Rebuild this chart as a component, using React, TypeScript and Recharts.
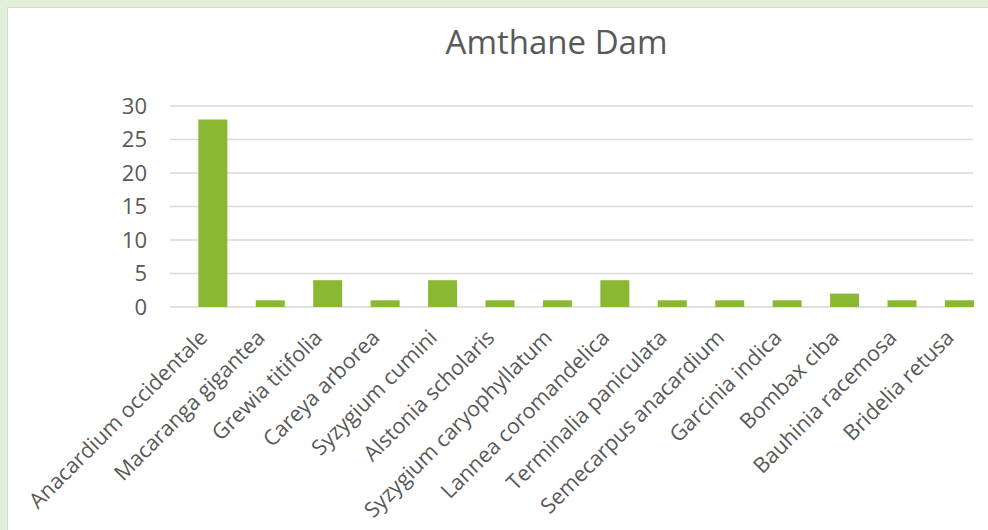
import React from "react";
import { BarChart, Bar, XAxis, YAxis, CartesianGrid } from "recharts";

const species = [
  "Anacardium occidentale",
  "Macaranga gigantea",
  "Grewia titifolia",
  "Careya arborea",
  "Syzygium cumini",
  "Alstonia scholaris",
  "Syzygium caryophyllatum",
  "Lannea coromandelica",
  "Terminalia paniculata",
  "Semecarpus anacardium",
  "Garcinia indica",
  "Bombax ciba",
  "Bauhinia racemosa",
  "Bridelia retusa",
];
const counts = [28, 1, 4, 1, 4, 1, 1, 4, 1, 1, 1, 2, 1, 1];
const yTicks = [0, 5, 10, 15, 20, 25, 30];

const data = species.map((name, i) => ({ name, count: counts[i] }));

const FONT = "'Open Sans', 'Noto Sans', sans-serif";
const TEXT = "#595959";

// species names run up-right at 45°, ending just left of the bar centre
function SpeciesTick(props: any) {
  const { x, y, payload } = props;
  const ax = x - 4;
  const ay = y + 32;
  return (
    <text
      x={ax}
      y={ay}
      textAnchor="end"
      fill={TEXT}
      fontSize={21.5}
      fontFamily={FONT}
      transform={`rotate(-45, ${ax}, ${ay})`}
    >
      {payload.value}
    </text>
  );
}

export default function App() {
  return (
    <div
      style={{
        position: "absolute",
        left: 0,
        top: 0,
        width: 988,
        height: 530,
        background: "#e2efda",
        overflow: "hidden",
      }}
    >
      <div
        style={{
          position: "absolute",
          left: 7,
          top: 7,
          width: 981,
          height: 523,
          background: "#fff",
          borderLeft: "1px solid #d0e2c6",
          borderTop: "1px solid #d0e2c6",
        }}
      />
      <div
        style={{
          position: "absolute",
          left: 0,
          top: 25,
          width: 1113,
          textAlign: "center",
          fontFamily: FONT,
          fontSize: 33,
          lineHeight: "33px",
          color: TEXT,
        }}
      >
        Amthane Dam
      </div>
      <div style={{ position: "absolute", left: 0, top: 0 }}>
        <BarChart
          width={988}
          height={530}
          data={data}
          margin={{ top: 106, right: 0, bottom: 0, left: 110 }}
          barCategoryGap="25%"
        >
          <CartesianGrid vertical={false} stroke="#d9d9d9" strokeWidth={1.5} x={170} width={803} />
          <XAxis
            dataKey="name"
            interval={0}
            height={223}
            axisLine={false}
            tickLine={false}
            tickSize={0}
            tickMargin={0}
            padding={{ left: 14, right: 0 }}
            tick={<SpeciesTick />}
          />
          <YAxis
            width={60}
            domain={[0, 30]}
            ticks={yTicks}
            axisLine={false}
            tickLine={false}
            tickSize={0}
            tickMargin={23}
            tick={{ fontSize: 22, fill: TEXT, fontFamily: FONT }}
          />
          <Bar dataKey="count" fill="#8ab833" isAnimationActive={false} />
        </BarChart>
      </div>
    </div>
  );
}
